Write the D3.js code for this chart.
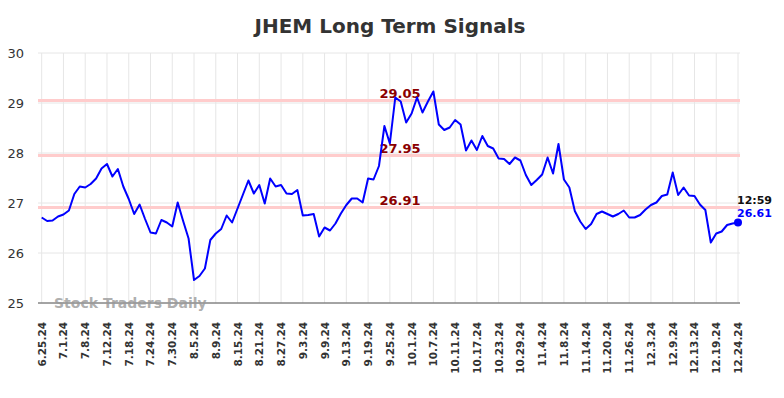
<!DOCTYPE html>
<html>
<head>
<meta charset="utf-8">
<script src="https://cdn.jsdelivr.net/npm/d3@7"></script>
<style>
  body { margin: 0; background: #fff; }
  svg { display: block; font-family: "DejaVu Sans", sans-serif; }
</style>
</head>
<body>
<svg width="784" height="398"></svg>
<script>
// daily closes, one per trading day from 6.25.24 to 12.24.24
var prices = [
  26.71, 26.64, 26.65, 26.73, 26.77, 26.85, 27.18, 27.33, 27.31, 27.38,
  27.49, 27.69, 27.78, 27.53, 27.68, 27.33, 27.08, 26.78, 26.97, 26.68,
  26.41, 26.39, 26.66, 26.61, 26.53, 27.01, 26.64, 26.29, 25.46, 25.54,
  25.69, 26.26, 26.39, 26.48, 26.75, 26.61, 26.89, 27.17, 27.45, 27.19,
  27.36, 26.99, 27.49, 27.33, 27.36, 27.19, 27.18, 27.26, 26.75, 26.76,
  26.78, 26.33, 26.51, 26.45, 26.59, 26.79, 26.96, 27.09, 27.09, 27.01,
  27.49, 27.47, 27.74, 28.54, 28.19, 29.11, 29.03, 28.61, 28.79, 29.11,
  28.81, 29.03, 29.23, 28.57, 28.46, 28.51, 28.66, 28.57, 28.05, 28.25,
  28.06, 28.34, 28.14, 28.09, 27.89, 27.88, 27.78, 27.91, 27.85, 27.56,
  27.36, 27.46, 27.57, 27.91, 27.59, 28.18, 27.47, 27.31, 26.84, 26.63,
  26.48, 26.58, 26.78, 26.83, 26.78, 26.73, 26.78, 26.85, 26.71, 26.71,
  26.76, 26.87, 26.96, 27.01, 27.14, 27.17, 27.61, 27.16, 27.31, 27.15,
  27.14, 26.97, 26.86, 26.21, 26.39, 26.43, 26.56, 26.59, 26.61
];

// one label every 4 trading days
var tickLabels = [
  "6.25.24", "7.1.24", "7.8.24", "7.12.24", "7.18.24", "7.24.24", "7.30.24",
  "8.5.24", "8.9.24", "8.15.24", "8.21.24", "8.27.24", "9.3.24", "9.9.24",
  "9.13.24", "9.19.24", "9.25.24", "10.1.24", "10.7.24", "10.11.24",
  "10.17.24", "10.23.24", "10.29.24", "11.4.24", "11.8.24", "11.14.24",
  "11.20.24", "11.26.24", "12.3.24", "12.9.24", "12.13.24", "12.19.24",
  "12.24.24"
];

var signals = [29.05, 27.95, 26.91];
var yTicks = [25, 26, 27, 28, 29, 30];
var lastTime = "12:59";

var svg = d3.select("svg");

var x = d3.scaleLinear().domain([0, prices.length - 1]).range([41.7, 738]);
var y = d3.scaleLinear().domain([25, 30]).range([303, 53]);

svg.append("text")
    .attr("x", 390).attr("y", 33)
    .attr("text-anchor", "middle")
    .attr("font-size", 20).attr("font-weight", "bold")
    .attr("fill", "#333")
    .text("JHEM Long Term Signals");

// horizontal grid
svg.append("g").selectAll("line")
  .data(yTicks)
  .join("line")
    .attr("x1", 38).attr("x2", 740)
    .attr("y1", d => y(d)).attr("y2", d => y(d))
    .attr("stroke", "#e6e6e6").attr("stroke-width", 1);

// vertical grid
svg.append("g").selectAll("line")
  .data(tickLabels)
  .join("line")
    .attr("x1", (d, i) => x(i * 4)).attr("x2", (d, i) => x(i * 4))
    .attr("y1", 53).attr("y2", 303)
    .attr("stroke", "#e6e6e6").attr("stroke-width", 1);

// y labels
svg.append("g").selectAll("text")
  .data(yTicks)
  .join("text")
    .attr("x", 24).attr("y", d => y(d) + 5)
    .attr("text-anchor", "end")
    .attr("font-size", 13).attr("fill", "#333")
    .text(d => d);

// x labels
svg.append("g").selectAll("text")
  .data(tickLabels)
  .join("text")
    .attr("transform", (d, i) => "translate(" + (x(i * 4) + 4) + ",322) rotate(-90)")
    .attr("text-anchor", "end")
    .attr("font-size", 10.5).attr("font-weight", "bold").attr("fill", "#333")
    .text(d => d);

// signal lines
svg.append("g").selectAll("line")
  .data(signals)
  .join("line")
    .attr("x1", 38).attr("x2", 740)
    .attr("y1", d => y(d)).attr("y2", d => y(d))
    .attr("stroke", "#ffcccc").attr("stroke-width", 3);

svg.append("g").selectAll("text")
  .data(signals)
  .join("text")
    .attr("x", 400).attr("y", d => y(d) - 3)
    .attr("text-anchor", "middle")
    .attr("font-size", 13).attr("font-weight", "bold")
    .attr("fill", "#8b0000")
    .text(d => d.toFixed(2));

// bottom axis line
svg.append("line")
    .attr("x1", 38).attr("x2", 740)
    .attr("y1", 303).attr("y2", 303)
    .attr("stroke", "#555").attr("stroke-width", 1);

svg.append("text")
    .attr("x", 54).attr("y", 308)
    .attr("font-size", 14).attr("font-weight", "bold")
    .attr("fill", "#999").attr("fill-opacity", 0.8)
    .text("Stock Traders Daily");

var line = d3.line()
    .x((d, i) => x(i))
    .y(d => y(d));

svg.append("path")
    .datum(prices)
    .attr("d", line)
    .attr("fill", "none")
    .attr("stroke", "#0000ff")
    .attr("stroke-width", 2)
    .attr("stroke-linejoin", "round");

var last = prices.length - 1;
svg.append("circle")
    .attr("cx", x(last)).attr("cy", y(prices[last]))
    .attr("r", 4).attr("fill", "#0000ff");

svg.append("text")
    .attr("x", x(last) - 1).attr("y", y(prices[last]) - 19)
    .attr("font-size", 11).attr("font-weight", "bold").attr("fill", "#111")
    .text(lastTime);

svg.append("text")
    .attr("x", x(last) - 1).attr("y", y(prices[last]) - 6)
    .attr("font-size", 11).attr("font-weight", "bold").attr("fill", "#0000ff")
    .text(prices[last].toFixed(2));
</script>
</body>
</html>
